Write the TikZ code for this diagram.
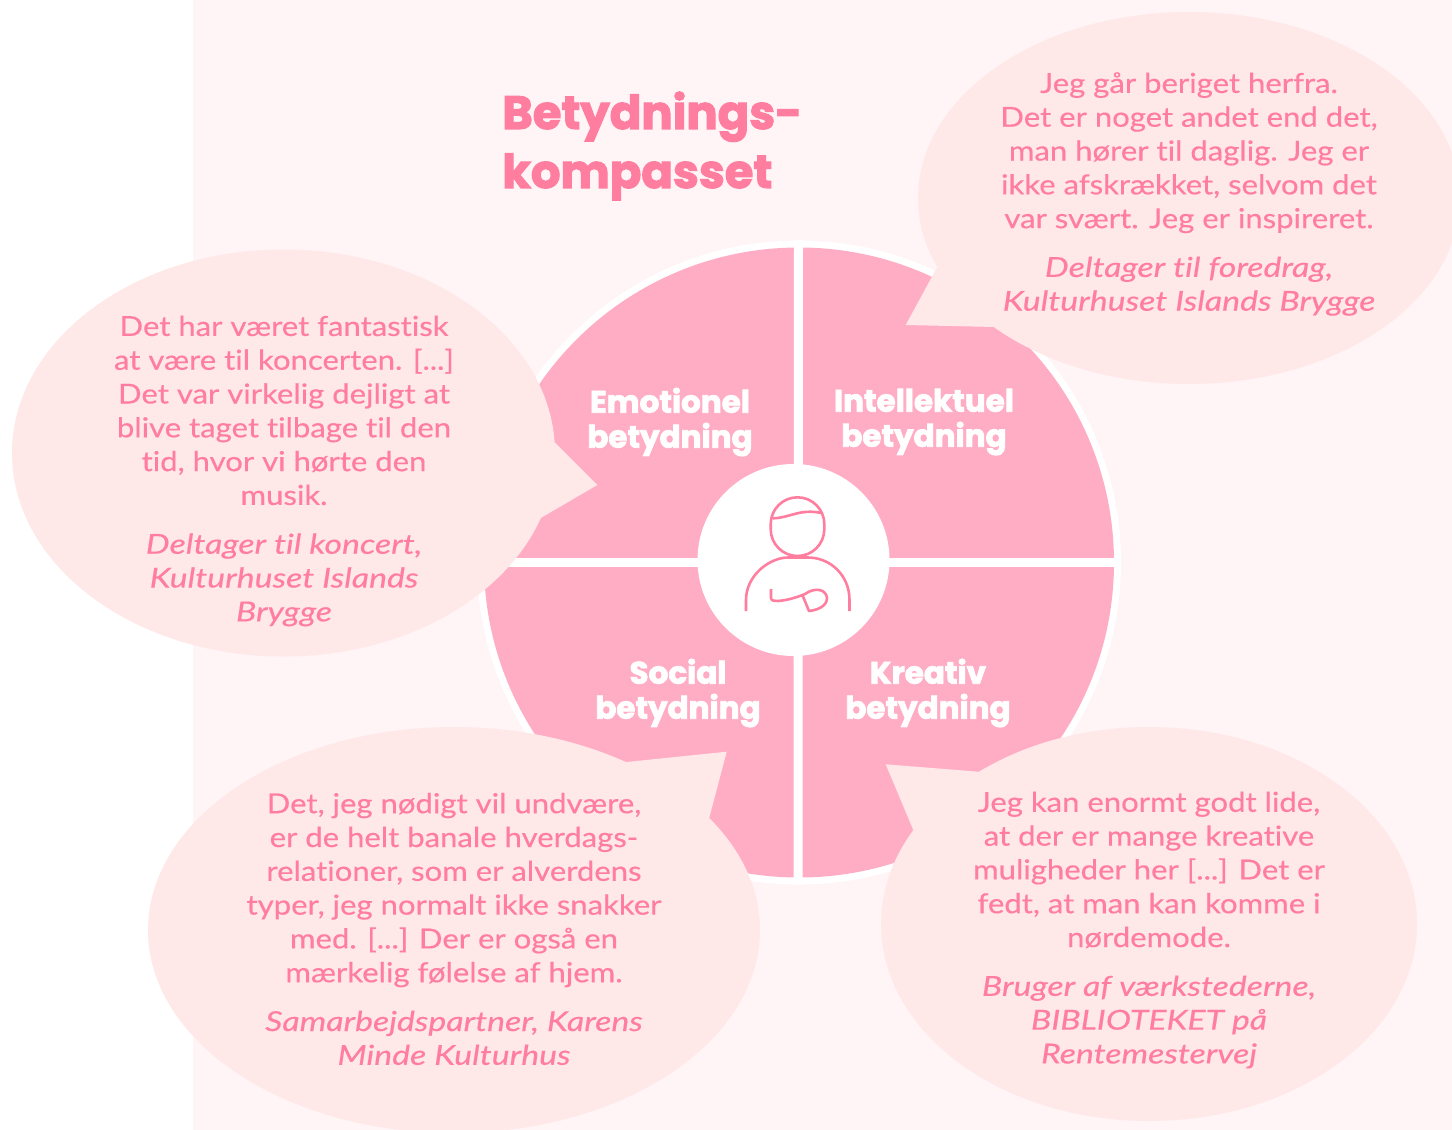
\documentclass[tikz,border=0pt]{standalone}
\usepackage{fontspec}
\setmainfont[Ligatures=NoCommon,FakeStretch=1.13,FakeBold=0.35,ItalicFeatures={FakeStretch=1.23}]{Lato}
\newfontfamily\headfont[FakeBold=2.4]{Poppins Bold}
\definecolor{panelbg}{HTML}{FFF4F6}
\definecolor{bubblebg}{HTML}{FFE8E8}
\definecolor{wedgepink}{HTML}{FFADC5}
\definecolor{inkpink}{HTML}{FF7EA0}
\tikzset{
  bubble/.style={fill=bubblebg,draw=none},
  quote/.style={text=inkpink,align=center,font=\fontsize{27.5}{33.8}\selectfont,inner sep=0pt},
  wedgelabel/.style={text=white,align=center,font=\headfont\fontsize{31}{35}\selectfont,inner sep=0pt},
  icon/.style={draw=inkpink,line width=2.6pt,line join=round},
  gapline/.style={draw=white,line width=9pt}
}
\newcommand{\gap}{\\[15pt]}
\begin{document}
\begin{tikzpicture}[x=1pt,y=-1pt]
\useasboundingbox (0,0) rectangle (1452,1130);
\clip (0,0) rectangle (1452,1130);
\fill[panelbg] (193,0) rectangle (1452,1130);
% compass
\fill[white] (799,562.5) circle[radius=322];
\fill[wedgepink] (799,562.5) circle[radius=315];
\draw[gapline] (798.5,240) -- (798,885);
\draw[gapline] (478,562) -- (1120,562);
\fill[white] (793.5,560) circle[radius=96];
\node[wedgelabel] (emo) at (670,422) {Emotionel\\betydning};
\node[wedgelabel] (int) at (924,422) {Intellektuel\\betydning};
\node[wedgelabel] (soc) at (678,693) {Social\\betydning};
\node[wedgelabel] (kre) at (928,693) {Kreativ\\betydning};
% icon
\draw[icon] (770.7,524.1) .. controls (770.7,509.3) and (782.7,497.3) .. (797.5,497.3) .. controls (812.3,497.3) and (824.3,509.3) .. (824.3,524.1) -- (824.3,529.2) .. controls (824.3,544) and (812.3,556) .. (797.5,556) .. controls (782.7,556) and (770.7,544) .. (770.7,529.2) -- cycle;
\draw[icon] (772.7,518.3) .. controls (790,518) and (800,508) .. (822.7,513.3);
\draw[icon] (746,611) -- (746,600) .. controls (746,575) and (770,557.5) .. (788,557.5) -- (808,557.5) .. controls (830,557.5) and (849.5,575) .. (849.5,600) -- (849.5,611);
\draw[icon] (771,589) -- (771,598) .. controls (771,601) and (775,601) .. (778,601) .. controls (790,600) and (800,596) .. (805,594) .. controls (815,587) and (826,589) .. (827,598) .. controls (827,606) and (818,610) .. (809,611) -- (802,594);
% bubbles
\fill[bubble] (1189,198) ellipse[x radius=271,y radius=186];
\fill[bubble] (936.7,268) -- (905.7,325) -- (995,327) -- (1030,300) -- cycle;
\fill[bubble] (283.5,453) ellipse[x radius=271.5,y radius=203.5];
\fill[bubble] (555,442.7) -- (597.3,485) -- (540.7,518) -- (500,480) -- cycle;
\fill[bubble] (454,930) ellipse[x radius=306,y radius=203];
\fill[bubble] (626.7,762) -- (726.7,751.7) -- (709.3,817.7) -- (650,820) -- cycle;
\fill[bubble] (1149,924) ellipse[x radius=268,y radius=197];
\fill[bubble] (978.3,771.7) -- (885.7,764.3) -- (913.3,830) -- (960,830) -- cycle;
% text
\node[text=inkpink,align=left,anchor=west,inner sep=0pt,font=\headfont\fontsize{46.5}{59}\selectfont] (title) at (502,146) {Betydnings-\\kompasset};
\node[quote] (q1) at (1189,194) {Jeg går beriget herfra.\\Det er noget andet end det,\\man hører til daglig. Jeg er\\ikke afskrækket, selvom det\\var svært. Jeg er inspireret.\gap\itshape Deltager til foredrag,\\\itshape Kulturhuset Islands Brygge};
\node[quote] (q2) at (284,471) {Det har været fantastisk\\at være til koncerten. [...]\\Det var virkelig dejligt at\\blive taget tilbage til den\\tid, hvor vi hørte den\\musik.\gap\itshape Deltager til koncert,\\\itshape Kulturhuset Islands\\\itshape Brygge};
\node[quote] (q3) at (454,929) {Det, jeg nødigt vil undvære,\\er de helt banale hverdags-\\relationer, som er alverdens\\typer, jeg normalt ikke snakker\\med. [...] Der er også en\\mærkelig følelse af hjem.\gap\itshape Samarbejdspartner, Karens\\\itshape Minde Kulturhus};
\node[quote] (q4) at (1149,930) {Jeg kan enormt godt lide,\\at der er mange kreative\\muligheder her [...] Det er\\fedt, at man kan komme i\\nørdemode.\gap\itshape Bruger af værkstederne,\\\itshape BIBLIOTEKET på\\\itshape Rentemestervej};
\end{tikzpicture}
\end{document}
